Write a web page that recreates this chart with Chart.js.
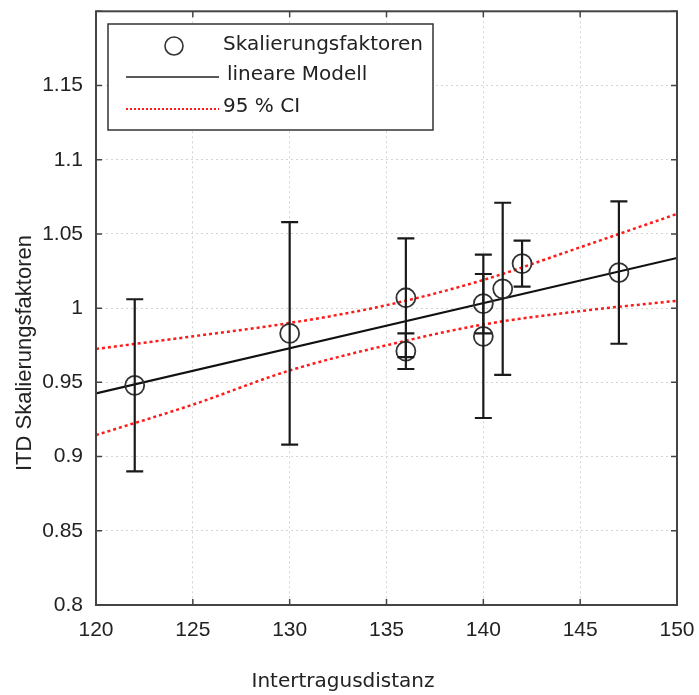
<!DOCTYPE html>
<html>
<head>
<meta charset="utf-8">
<script src="https://cdn.jsdelivr.net/npm/chart.js@4"></script>
<style>
  body { margin: 0; background: #fff; }
  #wrap { width: 699px; height: 695px; }
</style>
</head>
<body>
<div id="wrap"><canvas id="itdChart" width="699" height="695"></canvas></div>
<script>
// Messwerte: Intertragusdistanz vs. ITD-Skalierungsfaktor (mit Fehlerbalken)
const distanz = [122, 130, 136, 136, 140, 140, 141, 142, 147];
const faktoren = [0.948, 0.983, 1.007, 0.971, 1.003, 0.981, 1.013, 1.030, 1.024];
const fehler = [0.058, 0.075, 0.040, 0.012, 0.020, 0.055, 0.058, 0.0155, 0.048];

// lineares Modell
const modellX = [120, 150];
const modellY = [0.9426, 1.0338];

// 95 % Konfidenzband
const ciX = [120, 125, 130, 135, 140, 145, 150];
const ciOben = [0.9725, 0.981, 0.990, 1.002, 1.019, 1.041, 1.0635];
const ciUnten = [0.9145, 0.935, 0.958, 0.975, 0.989, 0.998, 1.005];

const xTicks = [120, 125, 130, 135, 140, 145, 150];
const yTicks = [0.8, 0.85, 0.9, 0.95, 1, 1.05, 1.1, 1.15, 1.2];

const TICK_FONT = { family: 'Liberation Sans', size: 21 };
const LEGEND_FONT = '20px "DejaVu Sans"';
const RED = '#ff1a1a';

const toPoints = (xs, ys) => xs.map((x, i) => ({ x: x, y: ys[i] }));

// Fehlerbalken mit Querstrichen
const errorBars = {
    id: 'errorBars',
    afterDatasetsDraw(chart) {
        const { ctx, scales: { x, y } } = chart;
        ctx.save();
        ctx.strokeStyle = '#1a1a1a';
        ctx.lineWidth = 2.2;
        distanz.forEach((d, i) => {
            const px = x.getPixelForValue(d);
            const top = y.getPixelForValue(faktoren[i] + fehler[i]);
            const bot = y.getPixelForValue(faktoren[i] - fehler[i]);
            ctx.beginPath();
            ctx.moveTo(px, top); ctx.lineTo(px, bot);
            ctx.moveTo(px - 8.5, top); ctx.lineTo(px + 8.5, top);
            ctx.moveTo(px - 8.5, bot); ctx.lineTo(px + 8.5, bot);
            ctx.stroke();
        });
        ctx.restore();
    }
};

// Rahmen mit nach innen zeigenden Ticks, Legende und Achsentitel
const frame = {
    id: 'frame',
    afterDraw(chart) {
        const { ctx, chartArea: a, scales: { x, y } } = chart;
        ctx.save();
        ctx.strokeStyle = '#444';
        ctx.lineWidth = 2;
        ctx.strokeRect(a.left, a.top, a.right - a.left, a.bottom - a.top);

        ctx.lineWidth = 1.5;
        ctx.beginPath();
        xTicks.forEach(t => {
            const px = x.getPixelForValue(t);
            ctx.moveTo(px, a.bottom); ctx.lineTo(px, a.bottom - 6);
            ctx.moveTo(px, a.top); ctx.lineTo(px, a.top + 6);
        });
        yTicks.forEach(t => {
            const py = y.getPixelForValue(t);
            ctx.moveTo(a.left, py); ctx.lineTo(a.left + 6, py);
            ctx.moveTo(a.right, py); ctx.lineTo(a.right - 6, py);
        });
        ctx.stroke();

        // Legende
        const lx = 108, ly = 24, lw = 325, lh = 106;
        ctx.fillStyle = '#fff';
        ctx.fillRect(lx, ly, lw, lh);
        ctx.strokeStyle = '#333';
        ctx.lineWidth = 1.5;
        ctx.strokeRect(lx, ly, lw, lh);

        ctx.strokeStyle = '#333';
        ctx.lineWidth = 1.6;
        ctx.beginPath();
        ctx.arc(174, 46, 9, 0, Math.PI * 2);
        ctx.stroke();

        ctx.strokeStyle = '#222';
        ctx.lineWidth = 1.5;
        ctx.beginPath();
        ctx.moveTo(126, 77); ctx.lineTo(219, 77);
        ctx.stroke();

        ctx.strokeStyle = RED;
        ctx.lineWidth = 2;
        ctx.setLineDash([2, 2]);
        ctx.beginPath();
        ctx.moveTo(126, 109); ctx.lineTo(219, 109);
        ctx.stroke();
        ctx.setLineDash([]);

        ctx.fillStyle = '#222';
        ctx.font = LEGEND_FONT;
        ctx.textBaseline = 'middle';
        ctx.textAlign = 'left';
        ctx.fillText('Skalierungsfaktoren', 223, 45);
        ctx.fillText('lineare Modell', 227, 75);
        ctx.fillText('95 % CI', 223, 107);

        // Achsentitel
        ctx.textAlign = 'center';
        ctx.textBaseline = 'alphabetic';
        ctx.font = '20px "DejaVu Sans"';
        ctx.fillText('Intertragusdistanz', 343, 687);

        ctx.save();
        ctx.translate(31, 353);
        ctx.rotate(-Math.PI / 2);
        ctx.font = '22px "Liberation Sans"';
        ctx.fillText('ITD Skalierungsfaktoren', 0, 0);
        ctx.restore();

        ctx.restore();
    }
};

const ctx = document.getElementById('itdChart').getContext('2d');

const config = {
    type: 'scatter',
    data: {
        datasets: [
            {
                label: 'Skalierungsfaktoren',
                data: toPoints(distanz, faktoren),
                showLine: false,
                pointStyle: 'circle',
                pointRadius: 9.5,
                pointBorderWidth: 1.8,
                borderColor: '#333',
                backgroundColor: 'rgba(0,0,0,0)'
            },
            {
                label: 'lineare Modell',
                data: toPoints(modellX, modellY),
                showLine: true,
                pointRadius: 0,
                borderColor: '#111',
                borderWidth: 2.2
            },
            {
                label: '95 % CI',
                data: toPoints(ciX, ciOben),
                showLine: true,
                pointRadius: 0,
                borderColor: RED,
                borderWidth: 2.5,
                borderDash: [3, 3],
                cubicInterpolationMode: 'monotone'
            },
            {
                label: '95 % CI unten',
                data: toPoints(ciX, ciUnten),
                showLine: true,
                pointRadius: 0,
                borderColor: RED,
                borderWidth: 2.5,
                borderDash: [3, 3],
                cubicInterpolationMode: 'monotone'
            }
        ]
    },
    options: {
        responsive: false,
        animation: false,
        layout: { padding: { top: 11, right: 22, left: 0, bottom: 0 } },
        plugins: {
            legend: { display: false },
            tooltip: { enabled: false }
        },
        scales: {
            x: {
                type: 'linear',
                min: 120,
                max: 150,
                afterFit: s => {
                    s.height = 90;
                    s.paddingLeft = 0;
                    s.paddingRight = 0;
                },
                afterBuildTicks: s => { s.ticks = xTicks.map(v => ({ value: v })); },
                grid: { color: '#d4d4d4', lineWidth: 1, drawTicks: false },
                border: { display: false, dash: [2, 3] },
                ticks: {
                    font: TICK_FONT,
                    color: '#222',
                    padding: 13,
                    maxRotation: 0,
                    callback: v => String(v)
                }
            },
            y: {
                type: 'linear',
                min: 0.8,
                max: 1.2,
                afterFit: s => {
                    s.width = 96;
                    s.paddingTop = 0;
                    s.paddingBottom = 0;
                },
                afterBuildTicks: s => { s.ticks = yTicks.map(v => ({ value: v })); },
                grid: { color: '#d4d4d4', lineWidth: 1, drawTicks: false },
                border: { display: false, dash: [2, 3] },
                ticks: {
                    font: TICK_FONT,
                    color: '#222',
                    padding: 13,
                    callback: v => (Math.abs(v - 1.2) < 1e-9 ? '' : String(Math.round(v * 100) / 100))
                }
            }
        }
    },
    plugins: [errorBars, frame]
};

const itdChart = new Chart(ctx, config);
</script>
</body>
</html>
